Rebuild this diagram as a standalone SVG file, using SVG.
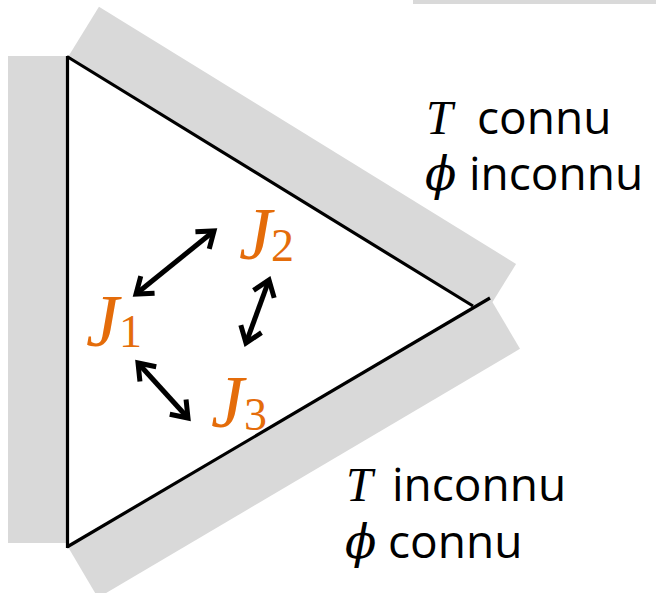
<svg xmlns="http://www.w3.org/2000/svg" width="656" height="593" viewBox="0 0 656 593">
<style>
.band{fill:#d9d9d9}
.edge{stroke:#000;stroke-width:3.2;fill:none}
.lbl{font-family:"Open Sans","Liberation Sans",sans-serif;font-size:46px;fill:#000}
.math{font-family:"Liberation Serif","DejaVu Serif",serif;font-style:italic;font-size:48px;fill:#000}
.phi{font-family:"DejaVu Serif",serif;font-style:italic;font-size:46px;fill:#000}
.J{font-family:"Liberation Serif",serif;font-style:italic;font-size:74px;fill:#E46C0A}
.sub{font-family:"Liberation Serif",serif;font-size:46px;fill:#E46C0A}
.arr{stroke:#000;stroke-width:5;fill:none;marker-start:url(#ah);marker-end:url(#ah)}
</style>
<defs>
<marker id="ah" markerUnits="userSpaceOnUse" orient="auto-start-reverse" viewBox="-24 -16 30 32" markerWidth="30" markerHeight="32" refX="0" refY="0">
<path d="M-15,-11 L0,0 L-15,11" stroke="#000" stroke-width="5" fill="none"/>
</marker>
</defs>
<rect id="topbar" class="band" x="413" y="0" width="243" height="4"/>
<g id="walls">
<rect id="wall-left" class="band" x="8" y="56" width="60" height="487"/>
<rect id="wall-top" class="band" x="0" y="-59" width="490" height="59" transform="translate(68,57) rotate(31.65)"/>
<rect id="wall-bottom" class="band" x="0" y="0" width="490" height="59" transform="translate(68,547) rotate(-30.54)"/>
</g>
<g id="triangle">
<line class="edge" x1="67.5" y1="56" x2="67.5" y2="548"/>
<line class="edge" x1="67" y1="56.5" x2="473" y2="306"/>
<line class="edge" x1="67" y1="547" x2="490" y2="298"/>
</g>
<g id="connectors">
<line class="arr" x1="136" y1="294" x2="214" y2="231"/>
<line class="arr" x1="269" y1="280" x2="246" y2="343"/>
<line class="arr" x1="138" y1="363" x2="188" y2="418"/>
</g>
<g id="J1"><text class="J" x="86" y="346">J</text><text class="sub" x="119" y="347">1</text></g>
<g id="J2"><text class="J" x="239" y="259">J</text><text class="sub" x="271" y="261">2</text></g>
<g id="J3"><text class="J" x="211" y="427">J</text><text class="sub" x="244" y="430">3</text></g>
<g id="label-top">
<text class="math" x="426" y="134">T</text><text class="lbl" x="477" y="134">connu</text>
<text class="phi" x="425" y="190">ϕ</text><text class="lbl" x="469" y="190">inconnu</text>
</g>
<g id="label-bottom">
<text class="math" x="346" y="501">T</text><text class="lbl" x="392" y="501">inconnu</text>
<text class="phi" x="345" y="558">ϕ</text><text class="lbl" x="388" y="558">connu</text>
</g>
</svg>
